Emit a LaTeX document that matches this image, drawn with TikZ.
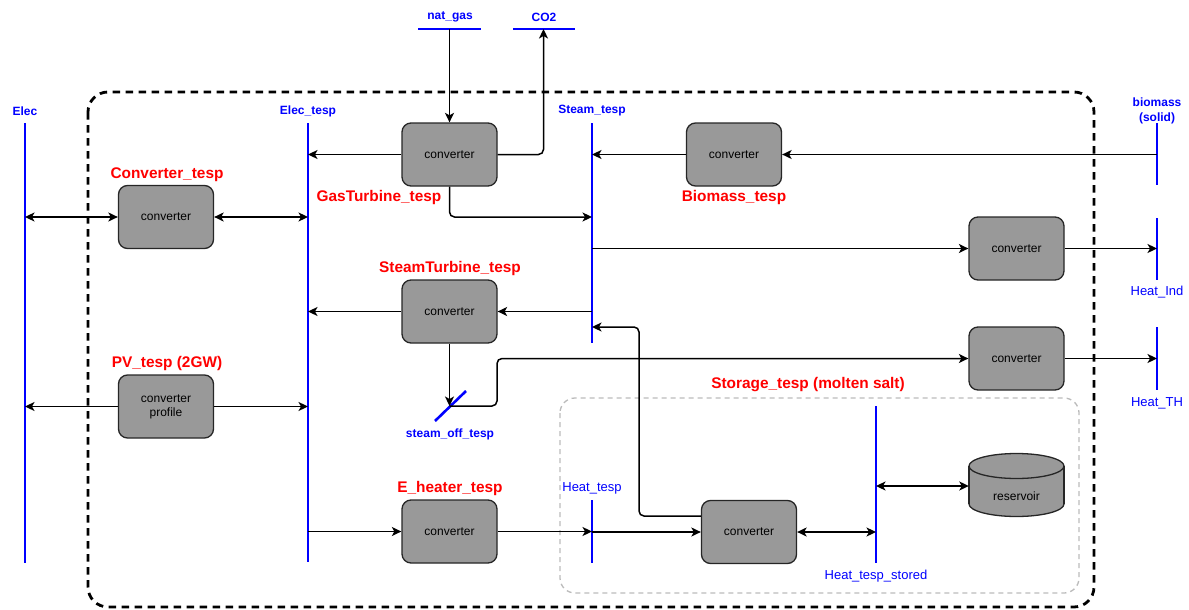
\documentclass[tikz,border=0pt]{standalone}
\usepackage{fontspec}
\setmainfont{Liberation Sans}
\usetikzlibrary{arrows.meta}
\definecolor{convgray}{HTML}{999999}
\definecolor{busblue}{HTML}{0000FF}
\definecolor{labred}{HTML}{FF0000}
\definecolor{stgray}{HTML}{BBBBBB}
\begin{document}
\begin{tikzpicture}[x=1pt,y=-1pt,
  conv/.style={draw=black!85, fill=convgray, rounded corners=9pt, minimum width=95pt, minimum height=63pt, line width=1.3pt, align=center, font=\fontsize{12}{14}\selectfont, inner sep=0pt},
  bus/.style={draw=busblue, line width=2.6pt},
  blab/.style={text=busblue, font=\bfseries\fontsize{12}{15}\selectfont, inner sep=0pt, align=center},
  blabr/.style={text=busblue, font=\fontsize{13}{15}\selectfont, inner sep=0pt, align=center},
  rlab/.style={text=labred, font=\bfseries\fontsize{15.4}{17}\selectfont, inner sep=0pt},
  conn/.style={line width=1.5pt, rounded corners=5pt},
  tip/.style={},
  arr/.style={conn, -{Stealth[length=9.5pt,width=9pt,inset=2.5pt]}},
  darr/.style={conn, {Stealth[length=9.5pt,width=9pt,inset=2.5pt]}-{Stealth[length=9.5pt,width=9pt,inset=2.5pt]}},
]
\useasboundingbox (0,0) rectangle (1189,610);

% outer dashed boundary
\draw[line width=2.8pt, dash pattern=on 7.5pt off 5.5pt, rounded corners=20pt] (88,92) rectangle (1094,607);
% storage boundary
\draw[stgray, line width=1.3pt, dash pattern=on 5pt off 4pt, rounded corners=15pt] (560,398) rectangle (1079,593);

% buses
\coordinate (elT) at (25,123);   \coordinate (elB) at (25,563);
\coordinate (eltT) at (308,123); \coordinate (eltB) at (308,562);
\coordinate (stmT) at (592,123); \coordinate (stmB) at (592,343);
\coordinate (bmT) at (1157,123); \coordinate (bmB) at (1157,185);
\coordinate (hiT) at (1157,218); \coordinate (hiB) at (1157,280);
\coordinate (thT) at (1157,327); \coordinate (thB) at (1157,390);
\coordinate (ngL) at (418,29);   \coordinate (ngR) at (481,29);
\coordinate (coL) at (513,29);   \coordinate (coR) at (575,29);
\coordinate (htT) at (592,500);  \coordinate (htB) at (592,563);
\coordinate (hsT) at (876,406);  \coordinate (hsB) at (876,563);
\coordinate (soA) at (435,421);  \coordinate (soB) at (466,391);
\foreach \a/\b in {elT/elB, eltT/eltB, stmT/stmB, bmT/bmB, hiT/hiB, thT/thB, ngL/ngR, coL/coR, htT/htB, hsT/hsB, soA/soB}
  \draw[bus] (\a) -- (\b);

% bus labels
\node[blab] (lelec) at (25,111) {Elec};
\node[blab] (lelt) at (308,111) {Elec\_tesp};
\node[blab] (lstm) at (592,111) {Steam\_tesp};
\node[blab] (lbm) at (1157,111) {biomass\\(solid)};
\node[blabr] (lhi) at (1157,292) {Heat\_Ind};
\node[blabr] (lth) at (1157,403) {Heat\_TH};
\node[blab] (lng) at (450,17) {nat\_gas};
\node[blab] (lco) at (544,17) {CO2};
\node[blabr] (lht) at (592,488) {Heat\_tesp};
\node[blabr] (lhs) at (876,576) {Heat\_tesp\_stored};
\node[blab] (lso) at (450,434) {steam\_off\_tesp};

% converters
\node[conv] (gt) at (449.5,154.5) {converter};
\node[conv] (bio) at (734,154.5) {converter};
\node[conv] (ct) at (166,217) {converter};
\node[conv] (hi) at (1016.5,248.5) {converter};
\node[conv] (st) at (449.5,311.5) {converter};
\node[conv] (th) at (1016.5,358.5) {converter};
\node[conv] (pv) at (166,406.5) {converter\\profile};
\node[conv] (eh) at (449.5,531.5) {converter};
\node[conv] (sc) at (749,532) {converter};

% reservoir cylinder
\fill[convgray, draw=black!85, line width=1.3pt] (1016.5,504) ellipse (47.5pt and 12.5pt);
\fill[convgray] (969,466) rectangle (1064,504);
\draw[black!85, line width=1.3pt] (969,466) -- (969,504) (1064,466) -- (1064,504);
\fill[convgray, draw=black!85, line width=1.3pt] (1016.5,466) ellipse (47.5pt and 12.5pt);
\node[minimum width=95pt, minimum height=64pt, inner sep=0pt] (res) at (1016.5,486) {};
\node[font=\fontsize{12}{14}\selectfont, inner sep=0pt] (reslab) at (1016.5,496) {reservoir};

% red labels
\node[rlab] (rct) at (167,175) {Converter\_tesp};
\node[rlab] (rgt) at (379,198) {GasTurbine\_tesp};
\node[rlab] (rbio) at (734,198) {Biomass\_tesp};
\node[rlab] (rst) at (450,269) {SteamTurbine\_tesp};
\node[rlab] (rpv) at (167,364) {PV\_tesp (2GW)};
\node[rlab] (reh) at (450,489) {E\_heater\_tesp};
\node[rlab] (rsto) at (808,385) {Storage\_tesp (molten salt)};

% helper coordinates
\coordinate (ng) at (449.5,29);
\coordinate (co2) at (543.5,29);
\coordinate (s217) at (592,217);
\coordinate (so) at (449.5,406);
\coordinate (ret) at (639,327);

% connectors
\draw[arr] (ng) -- (gt.north);
\draw[arr] (gt.east) -| (co2);
\draw[arr] (gt.west) -- (gt.west -| eltT);
\draw[arr] (gt.south) |- (s217);
\draw[arr] (bio.east -| bmT) -- (bio.east);
\draw[arr] (bio.west) -- (bio.west -| stmT);
\draw[darr] (ct.west -| elT) -- (ct.west);
\draw[darr] (ct.east) -- (ct.east -| eltT);
\draw[arr] (hi.west -| stmT) -- (hi.west);
\draw[arr] (hi.east) -- (hi.east -| hiT);
\draw[arr] (st.east -| stmT) -- (st.east);
\draw[arr] (st.west) -- (st.west -| eltT);
\draw[arr] (st.south) -- (so);
\draw[arr] (so) -- ++(47.5,0) |- (th.west);
\draw[arr] (th.east) -- (th.east -| thT);
\draw[arr] (pv.west) -- (pv.west -| elT);
\draw[arr] (pv.east) -- (pv.east -| eltT);
\draw[arr] (eh.west -| eltT) -- (eh.west);
\draw[arr] (eh.east) -- (eh.east -| htT);
\draw[arr] (sc.west -| htT) -- (sc.west);
\draw[arr] ([yshift=16pt]sc.west) -| (ret) -- (ret -| stmT);
\draw[darr] (sc.east) -- (sc.east -| hsT);
\draw[darr] (res.west -| hsT) -- (res.west);
\end{tikzpicture}
\end{document}
